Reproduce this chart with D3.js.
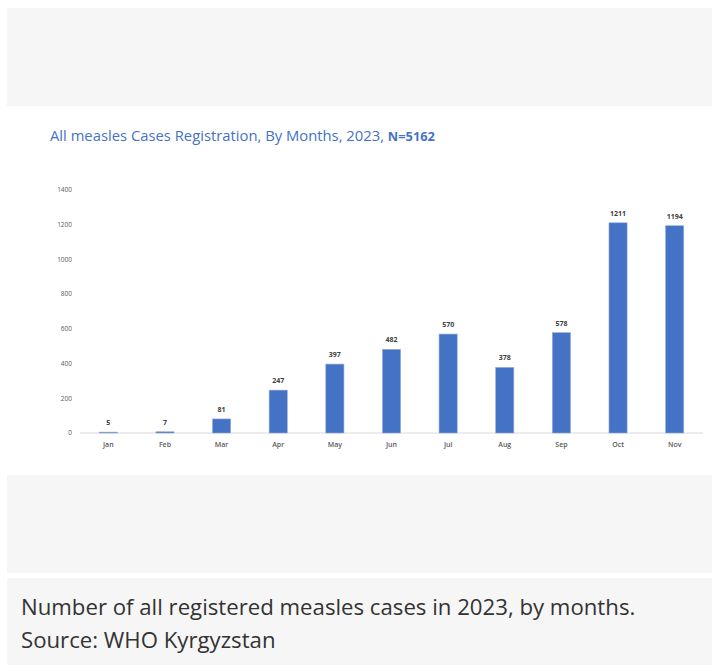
<!DOCTYPE html>
<html>
<head>
<meta charset="utf-8">
<script src="https://cdn.jsdelivr.net/npm/d3@7"></script>
<style>
	body { margin: 0; background: #fff; }
	svg { display: block; }
</style>
</head>
<body>
<svg id="chart" width="712" height="665"></svg>
<script>
const months = ['Jan', 'Feb', 'Mar', 'Apr', 'May', 'Jun', 'Jul', 'Aug', 'Sep', 'Oct', 'Nov'];
const cases = [5, 7, 81, 247, 397, 482, 570, 378, 578, 1211, 1194];
const yTicks = [0, 200, 400, 600, 800, 1000, 1200, 1400];
const titleMain = 'All measles Cases Registration, By Months, 2023, ';
const titleTotal = 'N=5162';
const captionLines = ['Number of all registered measles cases in 2023, by months.', 'Source: WHO Kyrgyzstan'];

const svg = d3.select('#chart');
const blue = '#4472c4';
const grey = '#f6f6f6';

// page panels
svg.append('rect').attr('x', 7).attr('y', 8).attr('width', 705).attr('height', 98).attr('fill', grey);
svg.append('rect').attr('x', 7).attr('y', 475).attr('width', 705).attr('height', 98).attr('fill', grey);
svg.append('rect').attr('x', 7).attr('y', 578).attr('width', 705).attr('height', 87).attr('fill', grey);

// title
const title = svg.append('text')
	.attr('x', 50)
	.attr('y', 141)
	.attr('font-family', 'Open Sans, sans-serif')
	.attr('fill', blue);
title.append('tspan').attr('font-size', 14.8).text(titleMain);
title.append('tspan').attr('font-size', 12.8).attr('font-weight', 'bold').text(titleTotal);

const x = d3.scaleBand().domain(months).range([80, 703]).paddingInner(0.68).paddingOuter(0.34);
const y = d3.scaleLinear().domain([0, 1400]).range([433, 190]);

// y axis labels
svg.append('g')
	.selectAll('text')
	.data(yTicks)
	.join('text')
	.attr('x', 72)
	.attr('y', (d) => y(d))
	.attr('dy', '0.35em')
	.attr('text-anchor', 'end')
	.attr('font-family', 'Open Sans, sans-serif')
	.attr('font-size', 6.5)
	.attr('fill', '#595959')
	.text((d) => d);

// baseline
svg.append('line')
	.attr('x1', 80).attr('x2', 703)
	.attr('y1', y(0)).attr('y2', y(0))
	.attr('stroke', '#d9d9d9');

svg.append('g')
	.selectAll('rect')
	.data(cases)
	.join('rect')
	.attr('x', (d, i) => x(months[i]))
	.attr('y', (d) => y(d))
	.attr('width', x.bandwidth())
	.attr('height', (d) => y(0) - y(d))
	.attr('fill', blue)
	.attr('stroke', '#8faadc')
	.attr('stroke-width', 0.6);

// value labels
svg.append('g')
	.selectAll('text')
	.data(cases)
	.join('text')
	.attr('x', (d, i) => x(months[i]) + x.bandwidth() / 2)
	.attr('y', (d) => y(d) - 7)
	.attr('text-anchor', 'middle')
	.attr('font-family', 'Open Sans, sans-serif')
	.attr('font-size', 7)
	.attr('font-weight', 'bold')
	.attr('fill', '#404040')
	.text((d) => d);

// month labels
svg.append('g')
	.selectAll('text')
	.data(months)
	.join('text')
	.attr('x', (d) => x(d) + x.bandwidth() / 2)
	.attr('y', 447)
	.attr('text-anchor', 'middle')
	.attr('font-family', 'Open Sans, sans-serif')
	.attr('font-size', 7)
	.attr('font-weight', 600)
	.attr('fill', '#595959')
	.text((d) => d);

// caption
svg.append('g')
	.selectAll('text')
	.data(captionLines)
	.join('text')
	.attr('x', 21)
	.attr('y', (d, i) => 615 + i * 33)
	.attr('font-family', 'Open Sans, sans-serif')
	.attr('font-size', 22.2)
	.attr('fill', '#333')
	.text((d) => d);
</script>
</body>
</html>
